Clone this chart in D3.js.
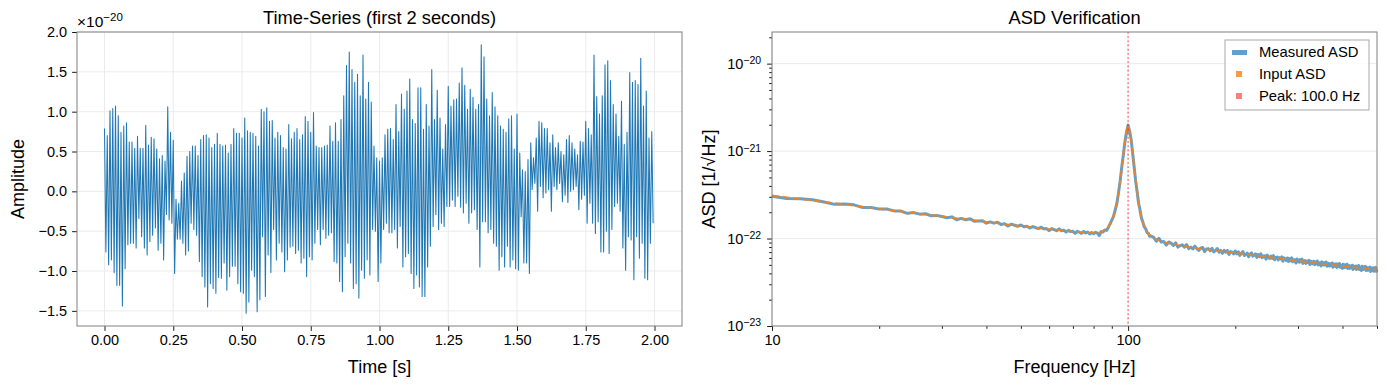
<!DOCTYPE html>
<html>
<head>
<meta charset="utf-8">
<script src="https://cdn.jsdelivr.net/npm/d3@7"></script>
<style>
body { margin: 0; background: #fff; }
svg text { font-family: "Liberation Sans", Arial, Helvetica, sans-serif; fill: #000; }
</style>
</head>
<body>
<div id="chart"></div>
<script>
// Serie temporal: maximo y minimo de cada ciclo (x1e-20), un ciclo cada 0.01 s
const cycleDt = 0.01;
const seriesHi = [
  0.79, 0.70, 1.01, 1.04, 1.07, 0.95, 0.74, 0.82, 0.86, 0.62,
  0.62, 0.54, 0.69, 0.54, 0.54, 0.83, 0.58, 0.68, 0.66, 0.53,
  0.41, 0.45, 0.38, 1.06, 0.74, 0.64, -0.10, -0.15, 0.13, 0.23,
  0.44, 0.50, 0.57, 0.57, 0.45, 0.65, 0.70, 0.71, 0.67, 0.55,
  0.59, 0.73, 0.59, 0.57, 0.58, 0.48, 0.59, 0.79, 0.73, 0.73,
  0.67, 0.92, 0.76, 0.74, 0.73, 0.69, 0.57, 1.03, 1.00, 1.05,
  0.88, 0.89, 0.67, 0.74, 0.70, 0.55, 0.53, 0.84, 0.66, 0.74,
  0.79, 0.65, 0.71, 0.94, 0.88, 0.74, 0.99, 0.57, 0.55, 0.55,
  0.57, 0.58, 0.82, 0.63, 0.86, 0.63, 0.90, 1.20, 1.58, 1.75,
  1.53, 1.37, 1.47, 1.20, 1.71, 1.16, 1.37, 1.12, 0.57, 0.42,
  0.38, 0.42, 0.71, 0.78, 0.79, 0.65, 1.09, 0.75, 1.22, 1.03,
  1.26, 1.41, 0.90, 0.85, 1.30, 1.30, 0.78, 1.09, 0.82, 1.53,
  0.90, 1.27, 0.92, 0.53, 0.84, 1.32, 1.07, 1.15, 1.16, 1.36,
  1.55, 1.33, 1.03, 1.28, 1.18, 1.03, 1.09, 1.84, 1.69, 1.16,
  0.95, 1.24, 1.06, 0.95, 0.82, 0.78, 0.74, 0.91, 0.95, 0.53,
  0.97, 0.48, 0.27, 0.25, 0.40, 0.61, 0.42, 0.67, 0.88, 0.86,
  0.79, 0.79, 0.61, 0.71, 0.55, 0.61, 0.50, 0.46, 0.65, 0.70,
  0.61, 0.53, 0.46, 0.63, 0.62, 0.88, 0.79, 0.71, 1.71, 1.19,
  0.97, 1.20, 1.59, 1.64, 1.39, 1.09, 0.97, 0.69, 1.13, 0.59,
  0.74, 1.49, 1.37, 1.39, 1.34, 1.67, 1.07, 1.26, 0.67, 0.75
];
const seriesLo = [
  -0.76, -0.92, -0.86, -1.02, -1.18, -1.18, -1.44, -0.97, -0.67, -0.65,
  -0.65, -0.71, -0.34, -0.57, -0.71, -0.80, -0.63, -0.55, -0.46, -0.74,
  -0.65, -0.86, -0.29, -0.36, -0.40, -1.03, -0.60, -0.60, -0.65, -0.80,
  -0.75, -0.40, -0.48, -0.55, -0.88, -1.07, -1.20, -1.45, -1.16, -1.22,
  -1.28, -1.08, -1.09, -0.90, -1.24, -1.07, -0.94, -0.94, -1.16, -1.26,
  -1.28, -1.53, -1.39, -0.99, -1.07, -1.51, -1.36, -0.57, -1.32, -0.80,
  -1.02, -0.48, -0.86, -0.65, -0.76, -1.01, -0.86, -0.70, -0.69, -0.78,
  -0.74, -0.90, -0.84, -1.07, -0.82, -0.86, -0.65, -0.48, -0.67, -0.48,
  -0.59, -0.55, -0.52, -0.88, -0.90, -1.13, -1.26, -0.82, -0.65, -0.90,
  -1.22, -1.16, -1.34, -0.99, -1.09, -0.86, -1.05, -0.48, -0.50, -1.13,
  -0.90, -0.48, -0.40, -0.52, -0.52, -0.48, -0.71, -0.44, -0.95, -0.82,
  -0.78, -1.03, -1.22, -1.05, -1.20, -1.32, -1.32, -0.95, -0.69, -0.44,
  -0.29, -0.48, -0.40, -0.44, -0.19, -0.19, -0.11, -0.19, -0.06, -0.20,
  -0.27, -0.15, -0.40, -0.27, -0.23, -0.48, -0.95, -0.38, -0.38, -0.52,
  -0.48, -0.65, -0.69, -0.99, -0.82, -0.95, -0.69, -0.95, -0.86, -0.97,
  -0.99, -0.32, -0.90, -0.90, -1.03, 0.02, 0.10, -0.25, 0.06, -0.08,
  -0.02, 0.02, -0.25, 0.06, 0.02, 0.10, -0.13, -0.05, -0.14, 0.00,
  0.02, 0.06, -0.23, -0.10, -0.05, -0.40, -0.15, -0.40, -0.53, -0.38,
  -0.76, -0.76, -0.50, -0.78, -0.48, -0.19, -0.15, -0.25, -0.71, -0.99,
  -0.57, -0.61, -1.11, -0.57, -0.84, -0.65, -1.09, -1.11, -0.65, -0.40
];
const timeTicks = [0, 0.25, 0.5, 0.75, 1.0, 1.25, 1.5, 1.75, 2.0];
const ampTicks = [-1.5, -1.0, -0.5, 0.0, 0.5, 1.0, 1.5, 2.0];

// ASD de entrada (x1e-22)
const inputFreq = [10, 12, 14, 16, 18, 20, 25, 30, 35, 40, 45, 50, 55, 60, 65, 70, 75, 80, 83, 85, 87, 89,
  90, 91, 92, 93, 94, 95, 96, 97, 98, 99, 99.5, 100, 100.5, 101, 102, 103, 104, 105, 106, 107, 108, 109,
  110, 112, 114, 116, 120, 125, 130, 140, 150, 170, 200, 250, 300, 350, 400, 450, 500];
const inputAsd = [3.10, 2.83, 2.62, 2.45, 2.31, 2.19, 1.96, 1.79, 1.66, 1.55, 1.46, 1.39, 1.33, 1.28, 1.24, 1.20, 1.17, 1.16, 1.17, 1.21, 1.28, 1.45,
  1.60, 1.80, 2.10, 2.55, 3.30, 4.60, 6.50, 9.20, 12.8, 16.8, 18.5, 19.6, 18.5, 17.0, 13.5, 9.50, 6.50, 4.60, 3.40, 2.60, 2.10, 1.75,
  1.53, 1.28, 1.13, 1.05, 0.97, 0.92, 0.88, 0.83, 0.79, 0.74, 0.685, 0.61, 0.555, 0.515, 0.485, 0.46, 0.44];

// ASD medida (x1e-22), tres tramos de frecuencia
const measLowStart = 10, measLowStep = 1;
const measLow = [3.04, 2.87, 2.86, 2.77, 2.62, 2.46, 2.48, 2.43, 2.26, 2.27,
  2.17, 2.18, 2.07, 2.06, 1.94, 1.98, 1.90, 1.92, 1.82, 1.84,
  1.79, 1.73, 1.77, 1.64, 1.70, 1.64, 1.68, 1.58, 1.59, 1.60,
  1.50, 1.55, 1.50, 1.54, 1.45, 1.48, 1.39, 1.46, 1.42, 1.38,
  1.43, 1.365, 1.38, 1.32, 1.37, 1.33, 1.30, 1.35, 1.29, 1.30,
  1.23, 1.30, 1.264, 1.23, 1.29, 1.23, 1.245, 1.19, 1.24, 1.20,
  1.21, 1.146, 1.21, 1.182, 1.147, 1.205, 1.157, 1.188, 1.13, 1.172,
  1.137, 1.18, 1.153, 1.08, 1.20, 1.186, 1.255, 1.24];
const measMidStart = 88, measMidStep = 1;
const measMid = [1.34, 1.47, 1.62, 1.79, 2.12, 2.52, 3.35, 4.55, 6.6, 9.1,
  12.9, 16.6, 19.8, 16.8, 13.6, 9.4, 6.6, 4.55, 3.45, 2.55,
  2.12, 1.72, 1.55, 1.36, 1.30, 1.17, 1.15, 1.06, 1.07];
const measHighStart = 118, measHighStep = 2;
const measHigh = [1.03, 0.931, 1.007, 0.911, 0.924, 0.841, 0.915, 0.887, 0.834, 0.893,
  0.798, 0.83, 0.847, 0.798, 0.854, 0.766, 0.798, 0.761, 0.819, 0.767,
  0.732, 0.780, 0.790, 0.710, 0.758, 0.767, 0.725, 0.773, 0.704, 0.729,
  0.769, 0.700, 0.732, 0.678, 0.732, 0.700, 0.731, 0.658, 0.710, 0.699,
  0.668, 0.719, 0.668, 0.706, 0.642, 0.680, 0.710, 0.640, 0.657, 0.681,
  0.619, 0.668, 0.685, 0.630, 0.646, 0.669, 0.608, 0.656, 0.621, 0.669,
  0.603, 0.631, 0.634, 0.582, 0.647, 0.607, 0.592, 0.632, 0.594, 0.639,
  0.571, 0.605, 0.615, 0.571, 0.604, 0.584, 0.617, 0.551, 0.602, 0.581,
  0.562, 0.600, 0.546, 0.590, 0.559, 0.602, 0.543, 0.570, 0.573, 0.525,
  0.585, 0.549, 0.536, 0.574, 0.539, 0.582, 0.520, 0.550, 0.560, 0.520,
  0.552, 0.534, 0.564, 0.504, 0.550, 0.533, 0.515, 0.550, 0.502, 0.542,
  0.515, 0.554, 0.500, 0.525, 0.528, 0.486, 0.541, 0.509, 0.498, 0.531,
  0.500, 0.540, 0.483, 0.512, 0.520, 0.484, 0.513, 0.497, 0.526, 0.470,
  0.513, 0.497, 0.481, 0.515, 0.468, 0.507, 0.481, 0.519, 0.469, 0.492,
  0.496, 0.456, 0.508, 0.478, 0.468, 0.500, 0.470, 0.508, 0.454, 0.482,
  0.490, 0.456, 0.483, 0.468, 0.496, 0.443, 0.484, 0.469, 0.454, 0.486,
  0.443, 0.479, 0.455, 0.491, 0.444, 0.466, 0.469, 0.431, 0.481, 0.453,
  0.443, 0.474, 0.446, 0.481, 0.431, 0.458, 0.466, 0.433, 0.459, 0.445,
  0.471, 0.421, 0.460, 0.446, 0.433, 0.463, 0.422, 0.456, 0.433, 0.468,
  0.423, 0.444];
const asdUnit = 1e-22;
const peakFreq = 100;
const freqMajor = [10, 100];
const freqMinor = [20, 30, 40, 50, 60, 70, 80, 90, 200, 300, 400, 500];
const asdMajor = [1e-23, 1e-22, 1e-21, 1e-20];
const legendLabels = ["Measured ASD", "Input ASD", "Peak: 100.0 Hz"];

const W = 1387, H = 387;
const leftBox = {x0: 77, x1: 682, y0: 32, y1: 326};
const rightBox = {x0: 772, x1: 1377, y0: 32, y1: 326};
const tickFont = "14.5px", labelFont = "18px", titleFont = "18.3px";
const gridColor = "#ebebeb";

const svg = d3.select("#chart").append("svg")
    .attr("width", W)
    .attr("height", H);

function styleAxis(g) {
    g.select(".domain").remove();
    g.selectAll(".tick line").attr("stroke", "#000").attr("stroke-width", 0.9);
    g.selectAll(".tick text").attr("font-size", tickFont).attr("font-family", null).attr("fill", "#000");
}

// ---------- Panel izquierdo ----------
const tx = d3.scaleLinear().domain([-0.1, 2.1]).range([leftBox.x0, leftBox.x1]);
const ty = d3.scaleLinear().domain([-1.69, 2.0]).range([leftBox.y1, leftBox.y0]);

svg.append("g").selectAll("line").data(timeTicks).join("line")
    .attr("x1", d => tx(d)).attr("x2", d => tx(d))
    .attr("y1", leftBox.y0).attr("y2", leftBox.y1)
    .attr("stroke", gridColor);
svg.append("g").selectAll("line").data(ampTicks).join("line")
    .attr("y1", d => ty(d)).attr("y2", d => ty(d))
    .attr("x1", leftBox.x0).attr("x2", leftBox.x1)
    .attr("stroke", gridColor);

const tsPoints = [];
seriesHi.forEach((v, k) => {
    tsPoints.push([k * cycleDt, v]);
    tsPoints.push([k * cycleDt + cycleDt / 2, seriesLo[k]]);
});

svg.append("path")
    .datum(tsPoints)
    .attr("fill", "none")
    .attr("stroke", "#1f77b4")
    .attr("stroke-width", 1.05)
    .attr("stroke-linejoin", "round")
    .attr("d", d3.line().x(d => tx(d[0])).y(d => ty(d[1])));

svg.append("g")
    .attr("transform", "translate(0," + leftBox.y1 + ")")
    .call(d3.axisBottom(tx).tickValues(timeTicks).tickFormat(d3.format(".2f")).tickSize(4.9).tickPadding(4))
    .call(styleAxis);
svg.append("g")
    .attr("transform", "translate(" + leftBox.x0 + ",0)")
    .call(d3.axisLeft(ty).tickValues(ampTicks).tickFormat(d3.format(".1f")).tickSize(4.9).tickPadding(5))
    .call(styleAxis);

svg.append("rect")
    .attr("x", leftBox.x0).attr("y", leftBox.y0)
    .attr("width", leftBox.x1 - leftBox.x0).attr("height", leftBox.y1 - leftBox.y0)
    .attr("fill", "none").attr("stroke", "#808080").attr("stroke-width", 1);

// Texto de escala
const off = svg.append("text").attr("x", leftBox.x0).attr("y", 27).attr("font-size", "15.5px");
off.append("tspan").text("×10");
off.append("tspan").attr("dy", "-0.5em").attr("font-size", "11.5px").text("−20");

svg.append("text")
    .attr("x", (leftBox.x0 + leftBox.x1) / 2).attr("y", 24)
    .attr("text-anchor", "middle").attr("font-size", titleFont)
    .text("Time-Series (first 2 seconds)");
svg.append("text")
    .attr("x", (leftBox.x0 + leftBox.x1) / 2).attr("y", 373)
    .attr("text-anchor", "middle").attr("font-size", labelFont)
    .text("Time [s]");
svg.append("text")
    .attr("transform", "translate(24," + (leftBox.y0 + leftBox.y1) / 2 + ") rotate(-90)")
    .attr("text-anchor", "middle").attr("font-size", labelFont)
    .text("Amplitude");

// ---------- Panel derecho ----------
const fx = d3.scaleLog().domain([10, 500]).range([rightBox.x0, rightBox.x1]);
const fy = d3.scaleLog().domain([1e-23, 2.3e-20]).range([rightBox.y1, rightBox.y0]);

const asdMinor = [];
asdMajor.forEach(m => { for (let k = 2; k <= 9; k++) if (m * k <= 2.3e-20) asdMinor.push(m * k); });

svg.append("g").selectAll("line").data(freqMajor).join("line")
    .attr("x1", d => fx(d)).attr("x2", d => fx(d))
    .attr("y1", rightBox.y0).attr("y2", rightBox.y1)
    .attr("stroke", gridColor);
svg.append("g").selectAll("line").data(asdMajor).join("line")
    .attr("y1", d => fy(d)).attr("y2", d => fy(d))
    .attr("x1", rightBox.x0).attr("x2", rightBox.x1)
    .attr("stroke", gridColor);

const measured = [];
measLow.forEach((v, i) => measured.push([measLowStart + i * measLowStep, v * asdUnit]));
measMid.forEach((v, i) => measured.push([measMidStart + i * measMidStep, v * asdUnit]));
measHigh.forEach((v, i) => measured.push([measHighStart + i * measHighStep, v * asdUnit]));
const input = inputFreq.map((f, i) => [f, inputAsd[i] * asdUnit]);

const asdLine = d3.line().x(d => fx(d[0])).y(d => fy(d[1]));

svg.append("path")
    .datum(measured)
    .attr("fill", "none")
    .attr("stroke", "#1f77b4")
    .attr("stroke-opacity", 0.7)
    .attr("stroke-width", 3)
    .attr("stroke-linejoin", "round")
    .attr("d", asdLine);

svg.append("path")
    .datum(input)
    .attr("fill", "none")
    .attr("stroke", "#ff7f0e")
    .attr("stroke-opacity", 0.8)
    .attr("stroke-width", 2)
    .attr("stroke-dasharray", "7.4,3.2")
    .attr("d", asdLine);

svg.append("line")
    .attr("x1", fx(peakFreq)).attr("x2", fx(peakFreq))
    .attr("y1", rightBox.y0).attr("y2", rightBox.y1)
    .attr("stroke", "red").attr("stroke-opacity", 0.5)
    .attr("stroke-width", 1.6).attr("stroke-dasharray", "1.6,2.6");

// Ejes
svg.append("g")
    .attr("transform", "translate(0," + rightBox.y1 + ")")
    .call(d3.axisBottom(fx).tickValues(freqMajor).tickFormat(d3.format("d")).tickSize(4.9).tickPadding(4))
    .call(styleAxis);
svg.append("g")
    .attr("transform", "translate(0," + rightBox.y1 + ")")
    .call(d3.axisBottom(fx).tickValues(freqMinor).tickFormat("").tickSize(2.8))
    .call(styleAxis);
svg.append("g")
    .attr("transform", "translate(" + rightBox.x0 + ",0)")
    .call(d3.axisLeft(fy).tickValues(asdMajor).tickFormat("").tickSize(4.9).tickPadding(6))
    .call(styleAxis)
    .selectAll(".tick text")
    .each(function(d) {
        const t = d3.select(this);
        t.append("tspan").text("10");
        t.append("tspan").attr("dy", "-0.45em").attr("font-size", "10.5px")
            .text("−" + Math.round(-Math.log10(d)));
    });
svg.append("g")
    .attr("transform", "translate(" + rightBox.x0 + ",0)")
    .call(d3.axisLeft(fy).tickValues(asdMinor).tickFormat("").tickSize(2.8))
    .call(styleAxis);

svg.append("rect")
    .attr("x", rightBox.x0).attr("y", rightBox.y0)
    .attr("width", rightBox.x1 - rightBox.x0).attr("height", rightBox.y1 - rightBox.y0)
    .attr("fill", "none").attr("stroke", "#808080").attr("stroke-width", 1);

svg.append("text")
    .attr("x", (rightBox.x0 + rightBox.x1) / 2).attr("y", 24)
    .attr("text-anchor", "middle").attr("font-size", titleFont)
    .text("ASD Verification");
svg.append("text")
    .attr("x", (rightBox.x0 + rightBox.x1) / 2).attr("y", 373)
    .attr("text-anchor", "middle").attr("font-size", labelFont)
    .text("Frequency [Hz]");
svg.append("text")
    .attr("transform", "translate(715," + (rightBox.y0 + rightBox.y1) / 2 + ") rotate(-90)")
    .attr("text-anchor", "middle").attr("font-size", labelFont)
    .text("ASD [1/√Hz]");

// Leyenda
const leyenda = svg.append("g").attr("transform", "translate(1225,40)");
leyenda.append("rect")
    .attr("width", 144).attr("height", 70)
    .attr("fill", "#fff").attr("fill-opacity", 0.8)
    .attr("stroke", "#a8a8a8").attr("stroke-width", 1);
const swatches = [
    {x: 7, y: 10, w: 15, h: 5, color: "#1f77b4", op: 0.7},
    {x: 11, y: 31, w: 6, h: 6, color: "#ff7f0e", op: 0.8},
    {x: 11, y: 53, w: 6, h: 6, color: "red", op: 0.5}
];
leyenda.selectAll("rect.sw").data(swatches).join("rect")
    .attr("class", "sw")
    .attr("x", d => d.x).attr("y", d => d.y)
    .attr("width", d => d.w).attr("height", d => d.h)
    .attr("fill", d => d.color).attr("fill-opacity", d => d.op);
leyenda.selectAll("text").data(legendLabels).join("text")
    .attr("x", 34)
    .attr("y", (d, i) => 17 + i * 22)
    .attr("font-size", "14.8px")
    .text(d => d);
</script>
</body>
</html>
